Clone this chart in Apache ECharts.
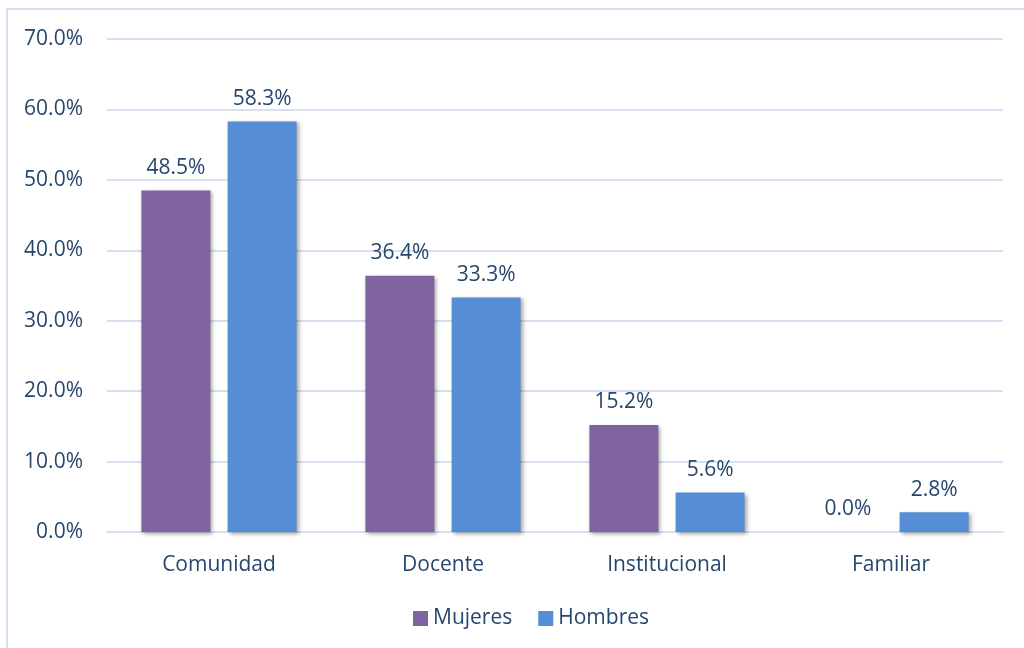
<!DOCTYPE html>
<html>
<head>
<meta charset="utf-8">
<script src="https://cdn.jsdelivr.net/npm/echarts@6/dist/echarts.min.js"></script>
<style>
  html, body { margin: 0; padding: 0; background: #fff; }
  #chart { width: 1024px; height: 648px; }
</style>
</head>
<body>
<div id="chart"></div>
<script>
const categories = ['Comunidad', 'Docente', 'Institucional', 'Familiar']
const mujeres = [48.5, 36.4, 15.2, 0.0]
const hombres = [58.3, 33.3, 5.6, 2.8]

const textColor = '#27466e'
const font = 'Open Sans'
const fs = 21

let myChart = echarts.init(document.getElementById('chart'))

function barSeries(name, data, color) {
  return {
    name: name,
    type: 'bar',
    data: data,
    barWidth: 69,
    barGap: '25%',
    itemStyle: {
      color: color,
      shadowColor: 'rgba(0,0,0,0.35)',
      shadowBlur: 4,
      shadowOffsetX: 2,
      shadowOffsetY: 2
    },
    label: {
      show: true,
      position: 'top',
      distance: 12,
      color: textColor,
      fontFamily: font,
      fontSize: fs,
      formatter: p => p.value.toFixed(1) + '%'
    }
  }
}

let option = {
  animation: false,
  graphic: [{
    type: 'rect',
    shape: { x: 7, y: 9, width: 1100, height: 700 },
    style: { fill: 'none', stroke: '#d5e0f0', lineWidth: 2 }
  }],
  grid: { left: 107, right: 21, top: 39, bottom: 116 },
  legend: {
    bottom: 14,
    left: 408,
    itemWidth: 15,
    itemHeight: 15,
    itemGap: 26,
    icon: 'rect',
    textStyle: { color: textColor, fontFamily: font, fontSize: fs },
    data: ['Mujeres', 'Hombres']
  },
  xAxis: {
    type: 'category',
    data: categories,
    axisLine: { lineStyle: { color: '#d5e0f0', width: 2 } },
    axisTick: { show: false },
    axisLabel: { color: textColor, fontFamily: font, fontSize: fs, margin: 23 }
  },
  yAxis: {
    type: 'value',
    min: 0,
    max: 70,
    interval: 10,
    axisLine: { show: false },
    axisTick: { show: false },
    splitLine: { lineStyle: { color: '#d5e0f0', width: 2 } },
    axisLabel: {
      color: textColor, fontFamily: font, fontSize: fs, margin: 24,
      formatter: v => v.toFixed(1) + '%'
    }
  },
  series: [
    barSeries('Mujeres', mujeres, '#8064a2'),
    barSeries('Hombres', hombres, '#558ed5')
  ]
}
myChart.setOption(option)
</script>
</body>
</html>
